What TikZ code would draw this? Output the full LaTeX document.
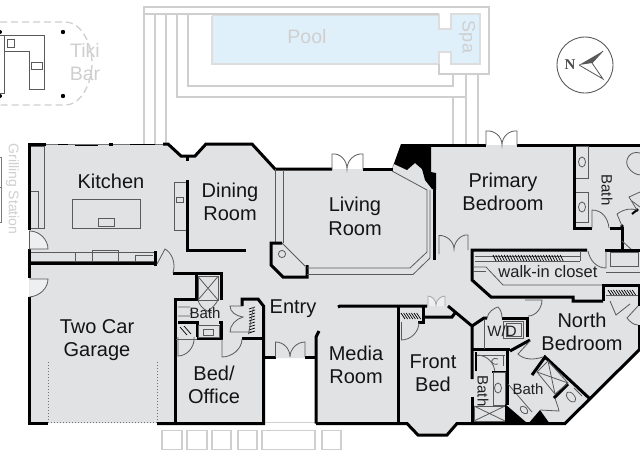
\documentclass[tikz,border=0pt]{standalone}
\usepackage{fontspec}
\setmainfont{Liberation Sans}
\newfontfamily\serifn{Liberation Serif}
\definecolor{floorgray}{HTML}{E1E2E4}
\definecolor{doorlight}{HTML}{EEEFF0}
\definecolor{poolblue}{HTML}{DFF0FA}
\definecolor{paleline}{HTML}{CFCFCF}
\definecolor{fixture}{HTML}{5A5A5A}
\tikzset{
  wallline/.style={line width=3pt,black,line join=miter},
  fixline/.style={line width=0.8pt,fixture},
  pale/.style={line width=1.3pt,paleline},
  hatchline/.style={line width=0.7pt,black},
  doorline/.style={line width=0.8pt,fixture,fill=doorlight},
  lab/.style={font=\fontsize{20}{23.5}\selectfont,align=center,inner sep=0pt,text=black!92},
  smalllab/.style={font=\fontsize{15}{17}\selectfont,inner sep=0pt,text=black!88},
  palelab/.style={font=\fontsize{19.5}{23}\selectfont,align=center,inner sep=0pt,text=paleline},
}
\begin{document}
\begin{tikzpicture}[x=1pt,y=-1pt]
\clip (0,0) rectangle (640,459);
\fill[white] (0,0) rectangle (640,459);
% ---- pool area
\fill[poolblue] (212,16) rectangle (440,63);
\fill[poolblue] (440,29) rectangle (451,52);
\fill[poolblue] (451,14) rectangle (480,64);
\draw[pale,draw=paleline!70] (212,16) -- (212,64) -- (439,64) -- (439,52) -- (451,52) -- (451,64) -- (480,64) -- (480,14) -- (451,14) -- (451,29) -- (439,29) -- (439,15) -- (212,15);
\draw[pale] (144,144) -- (144,7) -- (489,7) -- (489,74) -- (439,74) -- (439,64);
\draw[pale] (144,14) -- (439,14);
\draw[pale] (155,144) -- (155,14);
\draw[pale] (166,144) -- (166,14);
\draw[pale] (177,14) -- (177,97) -- (466,97);
\draw[pale] (188,14) -- (188,86) -- (453,86) -- (453,74);
\draw[pale] (453,97) -- (453,145);
\draw[pale] (466,74) -- (466,145);
\draw[pale] (478,74) -- (478,145);
\node[palelab] (poollab) at (307,37) {Pool};
\node[palelab,rotate=-90,font=\fontsize{18}{20}\selectfont] (spalab) at (467,37) {Spa};
% ---- tiki bar
\draw[line width=1.3pt,paleline,dash pattern=on 7pt off 4pt] (0,22) -- (65,22) .. controls (82,22) and (92,45) .. (92,63) .. controls (92,82) and (82,105) .. (65,105) -- (0,105);
\draw[fixline,fill=white] (-2,35.5) -- (44,35.5) -- (44,89.5) -- (29,89.5) -- (29,51) -- (4.5,51) -- (4.5,93) -- (-2,93);
\draw[fixline] (4.5,35.5) -- (4.5,51);
\draw[fixline] (7,39.5) rectangle (14,47);
\draw[fixline] (31,62) rectangle (42,69);
\fill (63,32) circle (2.2);
\fill (63,96) circle (2.2);
\fill (0,32) circle (2);
\fill (0,96) circle (2);
\node[palelab] (tikilab) at (85,50) {Tiki};
\node[palelab] (barlab) at (85,74) {Bar};
% ---- compass
\draw[line width=0.9pt,fixture] (585,65) circle (28);
\fill[black!65] (603,51) -- (579,65) -- (592,63) -- cycle;
\draw[line width=0.8pt,black!65] (579,65) -- (603,79) -- (592,63) -- (603,51);
\node[inner sep=0pt,font=\serifn\bfseries\fontsize{15}{15}\selectfont,text=black!70] (northlab) at (570,64.5) {N};
% ---- grilling
\draw[fixline,draw=fixture!80] (-2,157) -- (1.5,157) -- (1.5,222) -- (-2,222);
\draw[fixline,draw=fixture!80] (-2,187) -- (1.5,187);
\node[palelab,rotate=-90,font=\fontsize{14}{16}\selectfont] (grilllab) at (12.5,189) {Grilling Station};
% ---- steps
\foreach \a/\b in {162/182,187/207,212/231,238/257,262/315,322/341}
  \draw[pale,line width=1.5pt] (\a,430.5) rectangle (\b,449.5);
\draw[pale] (263,422.5) -- (316,422.5);
% ---- floor
\fill[floorgray] (29,144) -- (168,144) -- (181,156) -- (195,156) -- (206,144) -- (252,144) -- (275,169) -- (392,169) -- (401,145) -- (640,145) -- (640,350) -- (565,423) -- (457,423) -- (447,435) -- (418,435) -- (407,423) -- (316,423) -- (316,358) -- (264,358) -- (264,423) -- (29,423) -- cycle;
% ---- kitchen fixtures
\draw[fixline] (30,146) -- (44,146) -- (44,228) -- (30,228);
\draw[fixline] (30,191) -- (38,191) -- (38,228);
\draw[fixline] (72,199) rectangle (140,228);
\draw[fixline] (98.5,218) rectangle (114.5,226);
\draw[fixline] (174,182.5) rectangle (187,230);
\draw[fixline] (176,197) rectangle (183,202.5);
\draw[fixline] (31,252) -- (155,252);
\draw[fixline] (31,261.5) -- (155,261.5);
\draw[fixline] (75,252) -- (75,261.5);
\draw[fixline] (92.5,261.5) -- (92.5,250) -- (118,250) -- (118,261.5);
\draw[fixline] (135.5,261.5) -- (135.5,255.5) -- (153,255.5);
% ---- glass line on top of kitchen
\draw[line width=0.7pt,black!55] (46,144.5) -- (164,144.5);
\draw[line width=1pt,black] (58,144) -- (68,144);
\draw[line width=1pt,black] (75,145) -- (98,145);
\draw[line width=1pt,black] (130,144.5) -- (155,144.5);
\fill (109,143) rectangle (113,146);
% ---- exterior walls
\draw[wallline] (46,144) -- (29,144) -- (29,230);
\draw[wallline] (29,249) -- (29,278);
\draw[wallline] (29,297) -- (29,423.5) -- (48,423.5);
\draw[wallline] (157,423.5) -- (263.5,423.5) -- (263.5,306) -- (258,299) -- (242,299) -- (242,306);
\draw[wallline] (163,144) -- (168,144) -- (181,156) -- (195,156) -- (206,144) -- (252,144) -- (275,169) -- (332,169);
\draw[wallline] (363,169) -- (393,169);
\draw[wallline] (401,145) -- (486,145);
\draw[wallline] (517,145) -- (642,145);
\draw[wallline] (316,423.5) -- (407,423.5) -- (418,435) -- (447,435) -- (457,423.5) -- (565,423.5) -- (640,349);
\draw[wallline] (264,357) -- (276,357);
\draw[wallline] (305,357) -- (316,357);
\draw[wallline] (316,423.5) -- (316,337) -- (319,331);
% black wedge
\fill[black] (392,169) -- (401,144) -- (431,144) -- (431,172) -- (436,173) -- (436,190) -- (432,189) -- (425,180) -- (422,169) -- (415,163) -- (407,170) -- (394,164) -- cycle;
% ---- garage and kitchen walls
\draw[wallline] (29,263) -- (156,263);
\draw[wallline] (155,251) -- (155,266);
\draw[dotted,line width=1pt,black!55] (48,362) -- (48,422) -- (157,422) -- (157,362);
\draw[wallline] (187,156) -- (187,161);
\draw[wallline] (187,180) -- (187,250.5) -- (246,250.5);
\draw[wallline] (173,273.5) -- (221,273.5) -- (221,300);
\draw[wallline] (196,273.5) -- (196,299) -- (175,299) -- (175,423);
\draw[wallline] (178,322) -- (197,322) -- (197,337);
\draw[wallline] (219,322) -- (221,322) -- (221,338) -- (197,338);
\draw[fixline] (176,339) -- (197,339);
\draw[wallline] (242,338) -- (263,338);
% ---- shower/bath at bed office
\draw[fixline] (198,276.5) rectangle (218,300);
\draw[fixline] (198,276.5) -- (218,300) (218,276.5) -- (198,300);
\draw[fixline] (198,300) .. controls (200,308) and (208,312) .. (212,313);
\draw[fixline] (218,300) .. controls (216,304) and (212,308) .. (208,311);
\draw[fixline] (198,325) rectangle (219,337);
\draw[fixline] (203.5,329.5) rectangle (213,335);
\draw[fixline] (178,307) -- (190,307) (178,316) -- (190,316) (190,310) .. controls (193,309) and (193,314) .. (190,314);
\draw[hatchline] (180,327) -- (187,335) (184,326) -- (191,334);
\draw[fixline] (178,337) -- (178,356) .. controls (187,356) and (195,347) .. (194,337);
\draw[fixline] (222,339) -- (222,357) .. controls (232,357) and (242,349) .. (242,339);
% ---- closet by entry
\draw[fixline] (242,306) -- (230,306) .. controls (230,312) and (236,316) .. (243,317) .. controls (236,319) and (230,325) .. (230,332) -- (252,332);
\foreach \i in {0,1,...,8} \draw[hatchline] (249,333-\i*3) -- (255,331-\i*3);
\draw[fixline] (253.5,307) -- (248.5,334);
% ---- dining/living thin double walls
\draw[fixline] (275,169) -- (275,243);
\draw[fixline] (283,170) -- (283,243);
\draw[wallline] (282,243) -- (271,243) -- (271,265) -- (283,277) -- (307,277) -- (307,265);
\draw[fixline] (282,243) -- (305,266);
\draw[fixline] (282,254) circle (3.6);
\draw[fixline] (307,268) -- (410,268) -- (427,252) -- (427,190) -- (392,171);
\draw[fixline] (307,274.5) -- (413,274.5) -- (430,258) -- (430,190);
\draw[wallline] (434,175) -- (434,260);
% ---- ext doors
\draw[fixline] (486,145) -- (486,131) .. controls (494,130) and (502,136) .. (502,145) .. controls (502,136) and (510,130) .. (517,131) -- (517,145);
\draw[fixline] (332,169) -- (332,154) .. controls (340,153) and (347,160) .. (347,169) .. controls (347,160) and (355,153) .. (363,154) -- (363,169);
\draw[fixline] (275.5,357) -- (275.5,342) .. controls (284,342) and (290,349) .. (290,357) .. controls (290,349) and (297,342) .. (305,342) -- (305,357);
\draw[fixline] (439,254) -- (439,235.5) .. controls (447,235) and (454,242) .. (454,249) .. controls (454,242) and (461,234) .. (468,235) -- (468,250);
\fill[doorlight] (428,306) -- (428,296) .. controls (432,296) and (436,300) .. (436,305) .. controls (436,300) and (441,296) .. (445,296) -- (445,306) -- cycle;
\draw[line width=0.8pt,black!35] (428,306) -- (428,296) .. controls (432,296) and (436,300) .. (436,305) .. controls (436,300) and (441,296) .. (445,296) -- (445,306);
% ---- side doors with light fill
\draw[doorline] (29.5,231) .. controls (40,231) and (48,240) .. (48,249) -- (29.5,249) -- cycle;
\draw[doorline] (29.5,279) -- (48,279) .. controls (48,288) and (40,296) .. (29.5,297);
\draw[fixline] (157,264) -- (165,249) .. controls (172,253) and (176,263) .. (173,273);
% ---- primary bath
\draw[wallline] (574,145) -- (574,228) -- (592,228);
\draw[wallline] (610,228) -- (622,228) -- (622,250);
\draw[fixline] (576,146) -- (588,146) -- (588,178) -- (576,178);
\draw[fixline] (576,192) -- (588,192) -- (588,222) -- (576,222);
\draw[fixline] (582,162) ellipse (3.5 and 5);
\draw[fixline] (582,207) ellipse (3.5 and 5);
\draw[fixline] (592,228) -- (592,210) .. controls (602,210) and (608,218) .. (609,228);
\draw[wallline,line width=2pt] (632,214) -- (637,210);
\fill (622,226) circle (1.8);
\fill (637,210) circle (1.8);
\draw[fixline] (622,226) -- (617,214) .. controls (624,209) and (631,208) .. (637,210);
\draw[fixline] (637,210) -- (629,197) -- (640,192);
\draw[fixline] (640,153) .. controls (630,150) and (624,160) .. (628,167) .. controls (631,172) and (636,175) .. (641,175);
\draw[fixline] (622,241) -- (632,250);
\draw[fixline] (632,201) -- (640,207);
% ---- walk-in closet
\draw[wallline] (587,250) -- (472,250) -- (472,280) -- (491,297) -- (573,297) -- (573,301) -- (603,301);
\draw[wallline] (605,250) -- (640,250);
\draw[fixline] (475,256) -- (580,256) (475,261) -- (580,261) (580,251) -- (580,261);
\foreach \i in {0,1,...,24} \draw[hatchline] (493+\i*2.8,255) -- (496+\i*2.8,261);
\draw[fixline] (474,267) -- (486,267) -- (503,285) -- (603,285);
\draw[fixline] (474,271) -- (486,271);
\draw[fixline] (588,251) .. controls (590,261) and (597,268) .. (606,268) -- (606,251);
\draw[fixline] (610,252) rectangle (638,266);
\draw[fixline] (606,272) -- (640,272);
\draw[wallline] (603,301) -- (603,285) -- (640,285);
\draw[wallline] (639,285) -- (639,306);
\draw[wallline] (639,325) -- (639,351);
\foreach \i in {0,1,...,9} \draw[hatchline] (608+\i*2.7,290) -- (612+\i*2.7,296);
\draw[fixline] (606,295.5) -- (638,295.5);
\draw[fixline] (610,301) -- (616,315) -- (630,304);
\draw[fixline] (638,306) -- (627,318) .. controls (630,322) and (634,325) .. (638,325);
% ---- hall / media / front bed
\draw[wallline] (338,307) -- (340,306) -- (427,306);
\draw[wallline] (398,306) -- (398,423);
\draw[wallline] (423,306) -- (423,322) -- (418,322);
\draw[wallline] (425,317) -- (452,317) -- (455,313);
\draw[wallline] (448,306) -- (472,326) -- (472,379);
\draw[wallline] (472,397) -- (472,423);
\draw[wallline] (472,326) -- (484,318) -- (487,318);
\draw[wallline] (502,318) -- (527,318) -- (527,337);
\draw[wallline] (472,349.5) -- (510,349.5);
\draw[wallline] (530,340) -- (510,351);
\draw[wallline] (507,350) -- (507,405);
\draw[fixline] (401,340) .. controls (411,340) and (419,332) .. (419,322);
\draw[fixline] (401,322) -- (401,340);
\foreach \i in {0,1,...,6} \draw[hatchline] (401+\i*2.6,313) -- (405+\i*2.6,319);
% W/D area
\draw[fixline] (484,320) -- (484,349);
\draw[fixline] (503,321) rectangle (523,338);
\draw[fixline] (506,323.5) rectangle (521,336);
\draw[fixline] (487,318) .. controls (488,312) and (494,308) .. (498,307) .. controls (501,310) and (502,314) .. (502,318);
\draw[fixline] (525,300) -- (542,300) .. controls (542,308) and (536,316) .. (528,316);
% ---- bath (rotated label)
\draw[fixline] (476,355) -- (505,355);
\draw[wallline,line width=2pt] (476,352) -- (476,371);
\draw[fixline] (478,355) .. controls (488,356) and (494,363) .. (495,372);
\draw[fixline] (498,359) .. controls (490,356) and (489,366) .. (498,364);
\draw[fixline] (503,355) -- (503,366);
\draw[wallline,line width=2pt] (492,372) -- (506,372);
\draw[fixline] (493,372) rectangle (505,405);
\draw[fixline] (498,388) ellipse (3.5 and 5);
\draw[fixline] (474,406) rectangle (505,421);
\draw[fixline] (474,406) -- (505,421) (505,406) -- (474,421);
% black corner pieces
\fill (505,404) -- (527,423) -- (505,423) -- cycle;
\fill (528,424) -- (540,410) -- (550,424) -- cycle;
% ---- south-east bath
\draw[fixline] (508,384) -- (532,412);
\draw[fixline,rotate around={45:(524,410)}] (524,410) ellipse (3 and 4.5);
\draw[wallline] (532,375) -- (545,357) -- (589,398);
\draw[wallline] (554,398) -- (568,384);
\draw[fixline] (537,372) -- (548,361) -- (568,383) -- (555,394) -- cycle;
\draw[fixline] (537,372) -- (568,383) (548,361) -- (555,394);
\draw[fixline] (530,341) -- (518,354) .. controls (524,360) and (534,360) .. (543,357);
\draw[fixline] (540,410) -- (559,411) .. controls (558,406) and (556,402) .. (555,398);
\draw[fixline,rotate around={40:(571,397)}] (571,397) ellipse (3.5 and 6);
\draw[fixline] (574,388) -- (582,396);
% ---- labels
\node[lab] (kitchenlab) at (111,181) {Kitchen};
\node[lab] (dininglab) at (230,202) {Dining\\Room};
\node[lab] (livinglab) at (355,216.5) {Living\\Room};
\node[lab] (primarylab) at (503,192) {Primary\\Bedroom};
\node[lab] (garagelab) at (97,340) {Two Car\\Garage};
\node[lab] (officelab) at (214,385) {Bed/\\Office};
\node[lab] (entrylab) at (293,309) {Entry};
\node[lab] (medialab) at (356,365) {Media\\Room};
\node[lab] (frontlab) at (433,373) {Front\\Bed};
\node[lab] (northbed) at (582,332) {North\\Bedroom};
\node[smalllab,font=\fontsize{16.5}{18}\selectfont] (walkin) at (548,272) {walk-in closet};
\node[smalllab,rotate=-90] (bathone) at (607,190) {Bath};
\node[smalllab] (bathtwo) at (205,313) {Bath};
\node[smalllab,rotate=-90] (baththree) at (483,391) {Bath};
\node[smalllab] (bathfour) at (528,389) {Bath};
\node[smalllab] (wdlab) at (502,331) {W/D};
\end{tikzpicture}
\end{document}
